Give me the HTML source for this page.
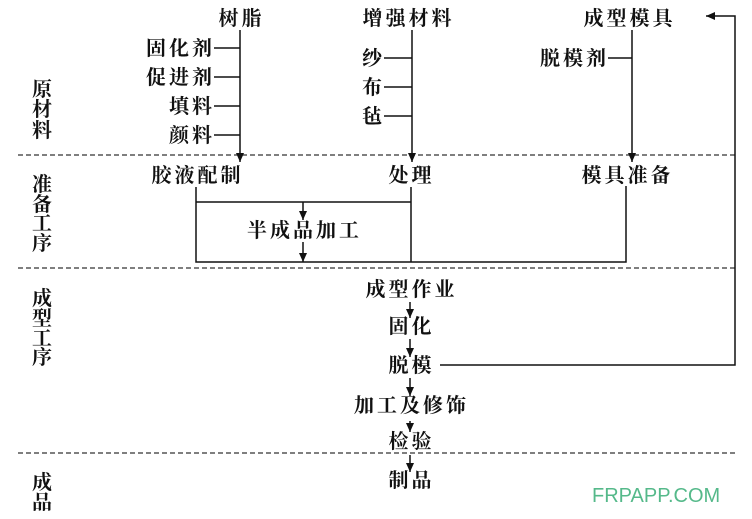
<!DOCTYPE html>
<html><head><meta charset="utf-8"><style>
html,body{margin:0;padding:0;background:#fff;}
svg{display:block;}
text{font-family:"Liberation Serif","Noto Serif CJK SC",serif;font-size:20px;font-weight:bold;fill:#111;letter-spacing:3px;}
.c{text-anchor:middle;}
.r{text-anchor:end;}
</style></head><body>
<svg width="752" height="519" viewBox="0 0 752 519" xmlns="http://www.w3.org/2000/svg">
<defs><marker id="a" markerWidth="9" markerHeight="8" refX="9" refY="4" orient="auto" markerUnits="userSpaceOnUse"><path d="M0,0 L9,4 L0,8 z" fill="#111"/></marker></defs>
<g stroke="#333" stroke-width="1.3" stroke-dasharray="5,3">
<line x1="18" y1="155" x2="735" y2="155"/>
<line x1="18" y1="268" x2="735" y2="268"/>
<line x1="18" y1="453" x2="735" y2="453"/>
</g>
<g stroke="#111" stroke-width="1.5" fill="none">
<line x1="240" y1="30" x2="240" y2="162" marker-end="url(#a)"/>
<line x1="214" y1="48" x2="240" y2="48"/><line x1="214" y1="77" x2="240" y2="77"/>
<line x1="214" y1="106" x2="240" y2="106"/><line x1="214" y1="135" x2="240" y2="135"/>
<line x1="412" y1="30" x2="412" y2="162" marker-end="url(#a)"/>
<line x1="384" y1="58" x2="412" y2="58"/><line x1="384" y1="87" x2="412" y2="87"/><line x1="384" y1="116" x2="412" y2="116"/>
<line x1="632" y1="30" x2="632" y2="162" marker-end="url(#a)"/>
<line x1="608" y1="58" x2="632" y2="58"/>
<polyline points="196,187 196,262 626,262 626,186"/>
<line x1="411" y1="187" x2="411" y2="262"/>
<line x1="196" y1="202" x2="411" y2="202"/>
<line x1="303" y1="202" x2="303" y2="220" marker-end="url(#a)"/>
<line x1="303" y1="242" x2="303" y2="262" marker-end="url(#a)"/>
<line x1="410" y1="302" x2="410" y2="318" marker-end="url(#a)"/>
<line x1="410" y1="339" x2="410" y2="357" marker-end="url(#a)"/>
<line x1="410" y1="378" x2="410" y2="396" marker-end="url(#a)"/>
<line x1="410" y1="421" x2="410" y2="432" marker-end="url(#a)"/>
<line x1="410" y1="455" x2="410" y2="472" marker-end="url(#a)"/>
<polyline points="440,365 735,365 735,16 706,16" marker-end="url(#a)"/>
</g>
<g transform="translate(1.5,0)">
<text class="c" x="240" y="25">树脂</text>
<text class="c" x="407" y="25">增强材料</text>
<text class="c" x="628" y="25">成型模具</text>
<text class="c" x="196" y="182">胶液配制</text>
<text class="c" x="410" y="182">处理</text>
<text class="c" x="626" y="182">模具准备</text>
<text class="c" x="303" y="237">半成品加工</text>
<text class="c" x="410" y="296">成型作业</text>
<text class="c" x="410" y="333">固化</text>
<text class="c" x="410" y="372">脱模</text>
<text class="c" x="410" y="412">加工及修饰</text>
<text class="c" x="410" y="448">检验</text>
<text class="c" x="410" y="487">制品</text>
</g>
<g transform="translate(3,0)">
<text class="r" x="212" y="55">固化剂</text>
<text class="r" x="212" y="84">促进剂</text>
<text class="r" x="212" y="113">填料</text>
<text class="r" x="212" y="142">颜料</text>
<text class="r" x="382" y="65">纱</text>
<text class="r" x="382" y="94">布</text>
<text class="r" x="382" y="123">毡</text>
<text class="r" x="606" y="65">脱模剂</text>
</g>
<g>
<text class="c" x="42" y="96" style="letter-spacing:0">原</text><text class="c" x="42" y="116" style="letter-spacing:0">材</text><text class="c" x="42" y="137" style="letter-spacing:0">料</text>
<text class="c" x="42" y="191" style="letter-spacing:0">准</text><text class="c" x="42" y="211" style="letter-spacing:0">备</text><text class="c" x="42" y="230" style="letter-spacing:0">工</text><text class="c" x="42" y="250" style="letter-spacing:0">序</text>
<text class="c" x="42" y="305" style="letter-spacing:0">成</text><text class="c" x="42" y="325" style="letter-spacing:0">型</text><text class="c" x="42" y="345" style="letter-spacing:0">工</text><text class="c" x="42" y="364" style="letter-spacing:0">序</text>
<text class="c" x="42" y="489" style="letter-spacing:0">成</text><text class="c" x="42" y="509" style="letter-spacing:0">品</text>
</g>
<text x="592" y="502" style="font-family:'Liberation Sans',sans-serif;font-weight:normal;font-size:20px;letter-spacing:0;fill:#55b98a;">FRPAPP.COM</text>
</svg>
</body></html>
